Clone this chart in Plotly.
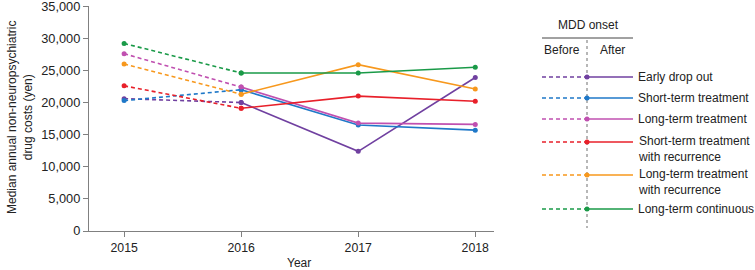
import plotly.graph_objects as go

years = [2015, 2016, 2017, 2018]
series_names = ["Early drop out", "Short-term treatment", "Long-term treatment",
                "Short-term treatment<br>with recurrence", "Long-term treatment<br>with recurrence",
                "Long-term continuous"]
colors = ["#7040A0", "#1F78C8", "#C050B0", "#E8202A", "#F7981D", "#1A9A48"]
early_drop_out = [20600, 20000, 12400, 23900]
short_term = [20300, 22000, 16500, 15700]
long_term = [27600, 22400, 16800, 16600]
short_term_rec = [22600, 19100, 21000, 20200]
long_term_rec = [26000, 21300, 25900, 22100]
long_term_cont = [29200, 24600, 24600, 25500]
all_values = [early_drop_out, short_term, long_term, short_term_rec, long_term_rec, long_term_cont]
y_ticks = [0, 5000, 10000, 15000, 20000, 25000, 30000, 35000]

FONT = "Arial, Liberation Sans, sans-serif"
L, R, T, B = 89, 261, 6, 39
W, H = 755, 270
PW, PH = W - L - R, H - T - B

def px(x):
    return (x - L) / PW

def py(y):
    return (H - B - y) / PH

fig = go.Figure()
for name, col, vals in zip(series_names, colors, all_values):
    fig.add_trace(go.Scatter(x=years[:2], y=vals[:2], mode="lines+markers",
                             line=dict(color=col, width=1.6, dash="4px,3px"),
                             marker=dict(size=5, color=col), showlegend=False, hoverinfo="skip"))
for name, col, vals in zip(series_names, colors, all_values):
    fig.add_trace(go.Scatter(x=years[1:], y=vals[1:], mode="lines+markers",
                             line=dict(color=col, width=1.6),
                             marker=dict(size=5, color=col), showlegend=False, name=name))

shapes = []
annotations = []
# legend header
annotations.append(dict(x=px(588), y=py(25), xref="paper", yref="paper", text="MDD onset",
                        showarrow=False, font=dict(size=12, color="#222", family=FONT),
                        xanchor="center", yanchor="middle"))
shapes.append(dict(type="line", xref="paper", yref="paper", x0=px(542), x1=px(633),
                   y0=py(38), y1=py(38), line=dict(color="#444", width=1)))
annotations.append(dict(x=px(562), y=py(50), xref="paper", yref="paper", text="Before",
                        showarrow=False, font=dict(size=12, color="#222", family=FONT),
                        xanchor="center", yanchor="middle"))
annotations.append(dict(x=px(612), y=py(50), xref="paper", yref="paper", text="After",
                        showarrow=False, font=dict(size=12, color="#222", family=FONT),
                        xanchor="center", yanchor="middle"))
shapes.append(dict(type="line", xref="paper", yref="paper", x0=px(587), x1=px(587),
                   y0=py(40), y1=py(228), line=dict(color="#888", width=1.2, dash="3px,3px")))
row_y = [77, 98, 119, 142, 175, 209]
for name, col, ry in zip(series_names, colors, row_y):
    shapes.append(dict(type="line", xref="paper", yref="paper", x0=px(542), x1=px(587),
                       y0=py(ry), y1=py(ry), line=dict(color=col, width=1.6, dash="4px,3px")))
    shapes.append(dict(type="line", xref="paper", yref="paper", x0=px(587), x1=px(633),
                       y0=py(ry), y1=py(ry), line=dict(color=col, width=1.6)))
    shapes.append(dict(type="circle", xref="paper", yref="paper", x0=px(584.5), x1=px(589.5),
                       y0=py(ry + 2.5), y1=py(ry - 2.5), line=dict(color=col, width=0),
                       fillcolor=col))
    text_y = ry + 7 if "<br>" in name else ry
    annotations.append(dict(x=px(636), y=py(text_y), xref="paper", yref="paper", text=name,
                            showarrow=False, align="left",
                            font=dict(size=12, color="#222", family=FONT),
                            xanchor="left", yanchor="middle"))

annotations.append(dict(x=px(20), y=py(118), xref="paper", yref="paper",
                        text="Median annual non-neuropsychiatric<br>drug costs (yen)",
                        textangle=-90, showarrow=False,
                        font=dict(size=12, color="#222", family=FONT),
                        xanchor="center", yanchor="middle"))
annotations.append(dict(x=px(299), y=py(263), xref="paper", yref="paper", text="Year",
                        showarrow=False, font=dict(size=12, color="#222", family=FONT),
                        xanchor="center", yanchor="middle"))

fig.update_layout(
    width=W, height=H,
    margin=dict(l=L, r=R, t=T, b=B, autoexpand=False),
    paper_bgcolor="white", plot_bgcolor="white",
    font=dict(family=FONT, size=12, color="#222"),
    shapes=shapes, annotations=annotations,
    xaxis=dict(range=[2014.7, 2018.16], tickvals=years, ticktext=[str(y) for y in years],
               showgrid=False, zeroline=False, showline=True, linecolor="#808080", linewidth=1.2,
               ticks="outside", ticklen=5, tickcolor="#808080", fixedrange=True,
               tickfont=dict(size=12.3), ticklabeloverflow="allow", automargin=False),
    yaxis=dict(range=[0, 35030], tickvals=y_ticks, ticktext=[f"{v:,}" for v in y_ticks],
               showgrid=False, zeroline=False, showline=True, linecolor="#808080", linewidth=1.2,
               ticks="outside", ticklen=5, tickcolor="#808080", fixedrange=True,
               tickfont=dict(size=12.8), ticklabeloverflow="allow", automargin=False),
)

fig.write_html("out.html", config={"displayModeBar": False},
               post_script="document.body.style.margin='0';document.body.style.overflow='hidden';")
